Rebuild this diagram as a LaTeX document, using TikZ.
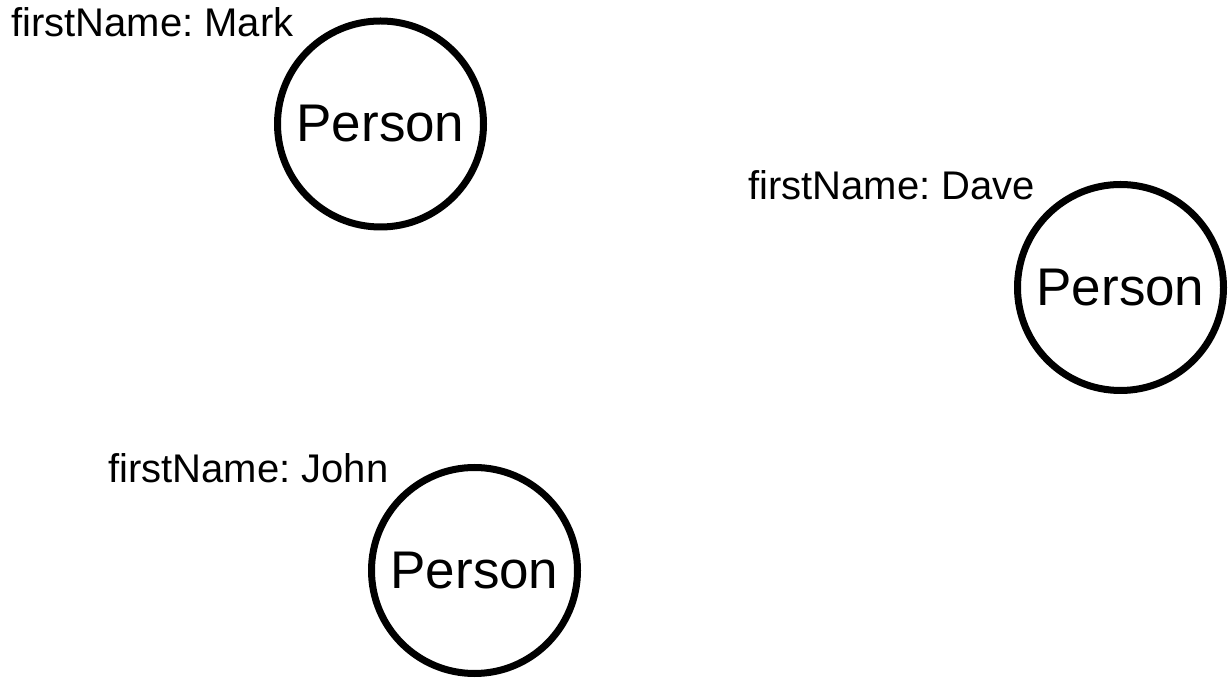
\documentclass[tikz,border=0pt]{standalone}
\usepackage{fontspec}
\setmainfont{Liberation Sans}
\frenchspacing
\begin{document}
\begin{tikzpicture}[x=1pt,y=1pt,
  person/.style={circle,draw=black,line width=7pt,minimum size=206pt,inner sep=0pt,
    font=\fontsize{53}{60}\selectfont},
  prop/.style={anchor=base west,inner sep=0pt,font=\fontsize{40}{46}\selectfont}]
\useasboundingbox[fill=white] (0,0) rectangle (1229,680);
\node[person] (mark) at (380.5,556) {Person};
\node[person] (dave) at (1120.5,392.5) {Person};
\node[person] (john) at (474.5,109.5) {Person};
\node[prop] (markl) at (11,643.3) {firstName: Mark};
\node[prop] (davel) at (748,480) {firstName: Dave};
\node[prop] (johnl) at (108,197) {firstName: John};
\end{tikzpicture}
\end{document}
